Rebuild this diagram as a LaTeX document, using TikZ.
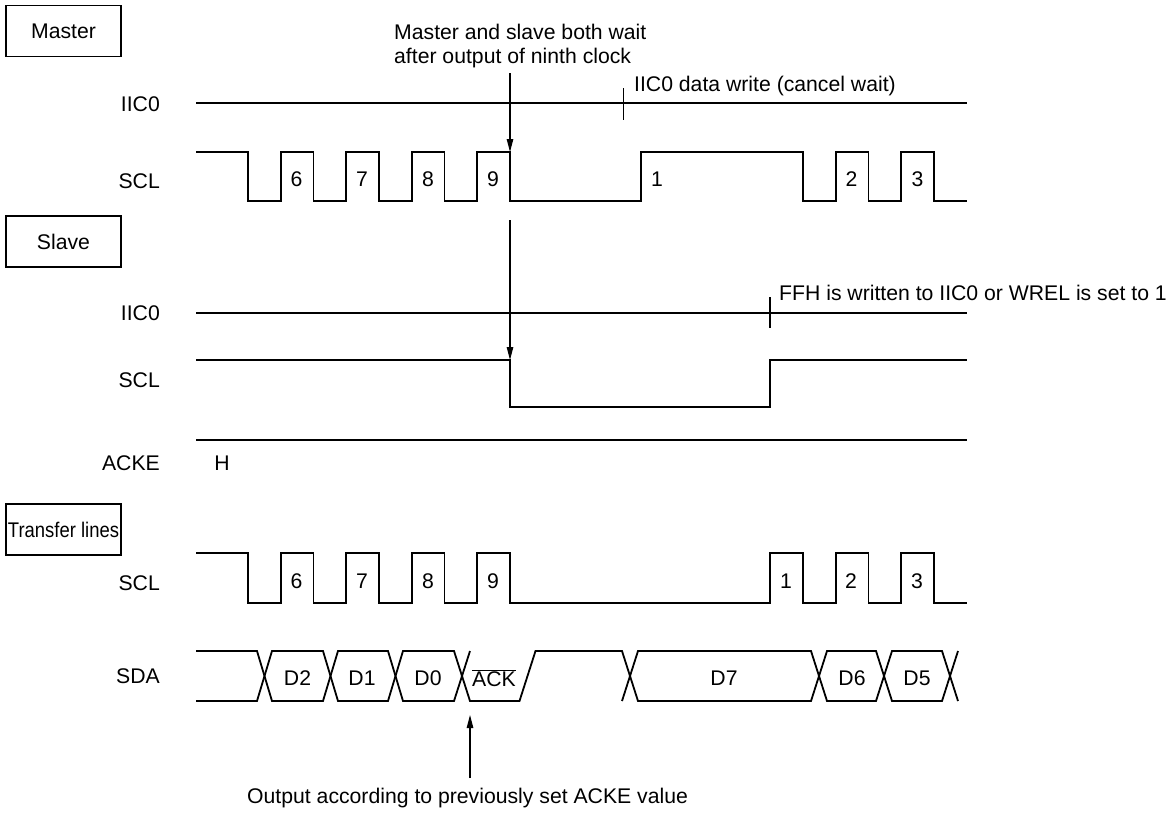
\documentclass[tikz,border=0pt]{standalone}
\usepackage{fontspec}
\setmainfont{Liberation Sans}
\usetikzlibrary{arrows.meta, positioning}
\tikzstyle{wave}      = [line width=1.8pt, line join=miter]
\tikzstyle{arrow}     = [line width=1.1pt, -{Stealth[length=13pt,width=6.5pt,inset=0pt]}]
\tikzstyle{tick}      = [line width=1.1pt]
\tikzstyle{title}     = [line width=1.5pt, draw, minimum width=115pt, minimum height=51pt, inner sep=0pt, align=center]
\tikzstyle{signal}    = [inner sep=0pt, anchor=east]
\tikzstyle{note}      = [inner sep=0pt, anchor=west, align=left]
\tikzstyle{num}       = [inner sep=0pt]

\begin{document}
\begin{tikzpicture}[x=1pt, y=-1pt, font=\fontsize{21.2}{24.5}\selectfont]
\useasboundingbox (0,0) rectangle (1172,812);

% titulky
\node[title] (master) at (63.5,31) {Master};
\node[title] (slave) at (63.5,241.5) {Slave};
\node[title] (lines) at (63.5,529.5) {\scalebox{0.87}[1]{Transfer lines}};

% master
\node[signal] (iic1) at (160,104) {IIC0};
\node[signal] (scl1) at (160,181) {SCL};
\draw[wave] (196,103) -- (967,103);
\draw[wave] (196,152) -- (248,152) -- (248,201) -- (281,201) -- (281,152) -- (313.5,152) -- (313.5,201) -- (346,201) -- (346,152) -- (379,152) -- (379,201) -- (412,201) -- (412,152) -- (444.5,152) -- (444.5,201) -- (477,201) -- (477,152) -- (510,152) -- (510,201) -- (641,201) -- (641,152) -- (803,152) -- (803,201) -- (836,201) -- (836,152) -- (868.5,152) -- (868.5,201) -- (901,201) -- (901,152) -- (934,152) -- (934,201) -- (967,201);
\node[num] (m6) at (296.5,179) {6};
\node[num] (m7) at (362,179) {7};
\node[num] (m8) at (428,179) {8};
\node[num] (m9) at (493,179) {9};
\node[num] (m1) at (657,179) {1};
\node[num] (m2) at (851.5,179) {2};
\node[num] (m3) at (917.5,179) {3};

% poznamky nahore
\node[note] (waitnote) at (394,46) {Master and slave both wait\\after output of ninth clock};
\node[note] (writenote) at (634,86) {IIC0 data write (cancel wait)};
\coordinate (w1) at (510,73);
\coordinate (w2) at (510,152);
\draw[arrow] (w1) -- (w2);
\coordinate (t1) at (623.5,88);
\coordinate (t2) at (623.5,120);
\draw[tick] (t1) -- (t2);

% slave
\node[signal] (iic2) at (160,313) {IIC0};
\node[signal] (scl2) at (160,380) {SCL};
\node[signal] (acke) at (160,463) {ACKE};
\node[num] (h) at (222,463) {H};
\draw[wave] (196,313) -- (967,313);
\draw[wave] (196,360) -- (510,360) -- (510,407) -- (770,407) -- (770,360) -- (967,360);
\draw[wave] (196,440) -- (967,440);
\node[note] (ffhnote) at (779,293) {FFH is written to IIC0 or WREL is set to 1};
\coordinate (s1) at (510,220);
\coordinate (s2) at (510,360);
\draw[arrow] (s1) -- (s2);
\coordinate (t3) at (770,297);
\coordinate (t4) at (770,328);
\draw[tick] (t3) -- (t4);

% prenosove linky
\node[signal] (scl3) at (160,583) {SCL};
\node[signal] (sda) at (160,676) {SDA};
\draw[wave] (196,553) -- (248,553) -- (248,603) -- (281,603) -- (281,553) -- (313.5,553) -- (313.5,603) -- (346,603) -- (346,553) -- (379,553) -- (379,603) -- (412,603) -- (412,553) -- (444.5,553) -- (444.5,603) -- (477,603) -- (477,553) -- (510,553) -- (510,603) -- (770,603) -- (770,553) -- (803,553) -- (803,603) -- (836,603) -- (836,553) -- (868.5,553) -- (868.5,603) -- (901,603) -- (901,553) -- (934,553) -- (934,603) -- (967,603);
\node[num] (t6) at (296.5,581) {6};
\node[num] (t7) at (362,581) {7};
\node[num] (t8) at (428,581) {8};
\node[num] (t9) at (493,581) {9};
\node[num] (t11) at (786,581) {1};
\node[num] (t12) at (851,581) {2};
\node[num] (t13) at (917,581) {3};

% SDA horni hrana
\draw[wave] (196,651) -- (257,651) -- (272,701) -- (323,701) -- (338,651) -- (388,651) -- (403,701) -- (454,701) -- (470,651);
% SDA dolni hrana
\draw[wave] (196,701) -- (257,701) -- (272,651) -- (323,651) -- (338,701) -- (388,701) -- (403,651) -- (454,651) -- (470,701) -- (519.5,701) -- (535.5,651) -- (622,651) -- (638,701) -- (811,701) -- (827,651) -- (876,651) -- (892,701) -- (942,701) -- (958,651);
\draw[wave] (622,701) -- (638,651) -- (811,651) -- (827,701) -- (876,701) -- (892,651) -- (942,651) -- (958,701);
\node[num] (d2) at (297.5,678) {D2};
\node[num] (d1) at (362,678) {D1};
\node[num] (d0) at (428,678) {D0};
\node[num] (ack) at (494,678) {$\overline{\mbox{ACK}}$};
\node[num] (d7) at (724,678) {D7};
\node[num] (d6) at (852,678) {D6};
\node[num] (d5) at (917,678) {D5};

% poznamka dole
\node[note] (acknote) at (247,798) {Output according to previously set ACKE value};
\coordinate (a1) at (470,778);
\coordinate (a2) at (470,715);
\draw[arrow] (a1) -- (a2);

\end{tikzpicture}
\end{document}
